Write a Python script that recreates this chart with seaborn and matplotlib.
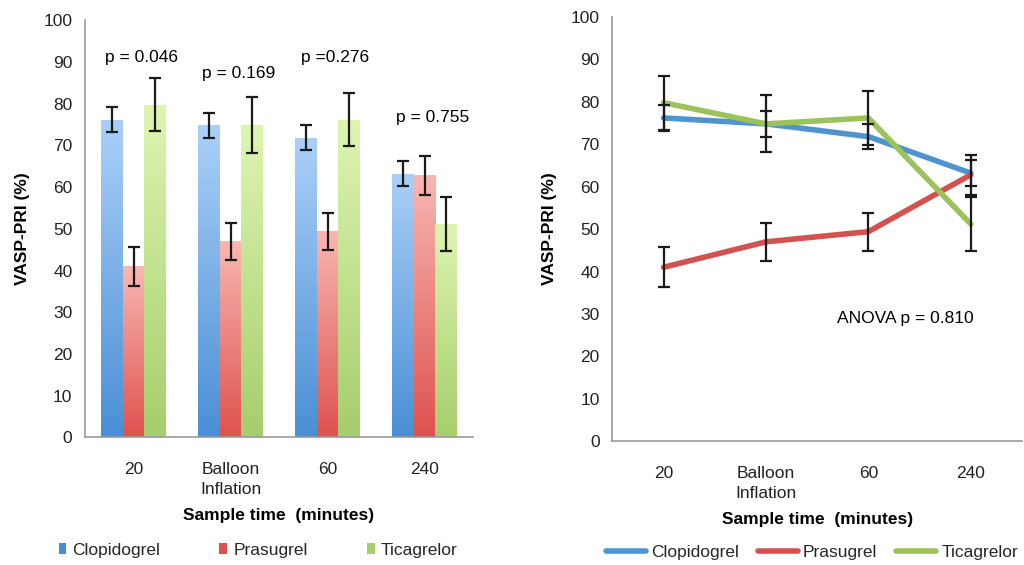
import matplotlib

matplotlib.use("Agg")
import matplotlib.pyplot as plt
import numpy as np
import pandas as pd
import seaborn as sns
from matplotlib.colors import LinearSegmentedColormap
from matplotlib.lines import Line2D
from matplotlib.patches import Patch

# ---- data ----
TIMES = ["20", "Balloon\nInflation", "60", "240"]
DRUGS = ["Clopidogrel", "Prasugrel", "Ticagrelor"]
CLOPIDOGREL = [76.2, 74.8, 71.8, 63.2]
PRASUGREL = [41.0, 47.0, 49.4, 62.8]
TICAGRELOR = [79.8, 74.8, 76.2, 51.2]
CLOPIDOGREL_ERR = [3.0, 3.0, 3.0, 3.0]
PRASUGREL_ERR = [4.7, 4.5, 4.5, 4.7]
TICAGRELOR_ERR = [6.4, 6.7, 6.4, 6.4]
P_VALUES = ["p = 0.046", "p = 0.169", "p =0.276", "p = 0.755"]
P_HEIGHTS = [91.0, 87.3, 91.0, 76.8]
ANOVA_TEXT = "ANOVA p = 0.810"

BAR_TOP = ["#abd0f8", "#f9b7b2", "#def5b2"]
BAR_BOTTOM = ["#4a8fd5", "#de524e", "#a6ce6c"]
LINE_COLORS = ["#4f93cf", "#d3524f", "#9cc25b"]

TEXT = "#222222"
SPINE = "#9a9a9a"


def build_frame() -> pd.DataFrame:
    rows = []
    for drug, vals, errs in zip(
        DRUGS,
        [CLOPIDOGREL, PRASUGREL, TICAGRELOR],
        [CLOPIDOGREL_ERR, PRASUGREL_ERR, TICAGRELOR_ERR],
    ):
        for i, (t, v, e) in enumerate(zip(TIMES, vals, errs)):
            rows.append({"time": t, "pos": i, "drug": drug, "value": v, "err": e})
    return pd.DataFrame(rows)


def style_axes(ax) -> None:
    sns.despine(ax=ax)
    for side in ("left", "bottom"):
        ax.spines[side].set_color(SPINE)
        ax.spines[side].set_linewidth(1.2)
    ax.set_ylim(0, 100)
    ax.set_yticks(range(0, 101, 10))
    ax.set_xlim(-0.5, 3.5)
    ax.set_xticks(range(len(TIMES)))
    ax.set_xticklabels(TIMES, fontsize=12.5, color=TEXT, linespacing=1.4)
    ax.set_xticks(np.arange(-0.5, 3.6, 1.0), minor=True)
    ax.tick_params(axis="x", which="major", length=0, pad=18)
    ax.tick_params(axis="x", which="minor", length=5, color=SPINE, width=1.2)
    ax.tick_params(axis="y", length=5, color=SPINE, width=1.2, labelsize=12.5,
                   labelcolor=TEXT, pad=4)
    ax.set_ylabel("VASP-PRI (%)", fontsize=12.5, fontweight="bold", color="black",
                  labelpad=10)
    ax.set_xlabel("Sample time  (minutes)", fontsize=12.5, fontweight="bold",
                  color="black", labelpad=8)
    ax.grid(False)


def gradient_bars(ax, containers) -> None:
    grad = np.linspace(0, 1, 256).reshape(-1, 1)
    for k, container in enumerate(containers):
        cmap = LinearSegmentedColormap.from_list(
            f"g{k}", [BAR_BOTTOM[k], BAR_TOP[k]]
        )
        for patch in container.patches:
            x0, y0 = patch.get_x(), patch.get_y()
            w, h = patch.get_width(), patch.get_height()
            patch.set_facecolor("none")
            im = ax.imshow(grad, cmap=cmap, origin="lower", aspect="auto",
                           extent=[x0, x0 + w, y0, y0 + h], zorder=2)
            im.set_clip_path(patch)


def main() -> None:
    sns.set_theme(style="white")
    plt.rcParams["font.family"] = ["Liberation Sans", "DejaVu Sans"]
    df = build_frame()

    fig = plt.figure(figsize=(10.24, 5.65), dpi=100)
    ax1 = fig.add_axes([0.083, 0.226, 0.379, 0.738])
    ax2 = fig.add_axes([0.598, 0.219, 0.400, 0.751])

    # ---- left: grouped bars ----
    sns.barplot(data=df, x="pos", y="value", hue="drug", hue_order=DRUGS,
                palette=BAR_BOTTOM, errorbar=None, width=0.67, ax=ax1,
                native_scale=True, edgecolor="none", linewidth=0, legend=False)
    bars = list(ax1.containers)
    gradient_bars(ax1, bars)
    for k, container in enumerate(bars):
        sub = df[df["drug"] == DRUGS[k]].sort_values("pos")
        xs = [p.get_x() + p.get_width() / 2 for p in container.patches]
        ax1.errorbar(xs, sub["value"], yerr=sub["err"], fmt="none", ecolor="#1a1a1a",
                     elinewidth=1.6, capsize=4, capthick=1.6, zorder=4)
    for i, (txt, h) in enumerate(zip(P_VALUES, P_HEIGHTS)):
        ax1.text(i + 0.08, h, txt, ha="center", va="center", fontsize=12.5,
                 color="black")
    style_axes(ax1)

    # ---- right: lines ----
    sns.lineplot(data=df, x="pos", y="value", hue="drug", hue_order=DRUGS,
                 palette=LINE_COLORS, linewidth=4, errorbar=None, ax=ax2,
                 legend=False, zorder=3)
    for drug in DRUGS:
        sub = df[df["drug"] == drug].sort_values("pos")
        ax2.errorbar(sub["pos"], sub["value"], yerr=sub["err"], fmt="none",
                     ecolor="#1a1a1a", elinewidth=1.6, capsize=4, capthick=1.6,
                     zorder=4)
    ax2.text(1.69, 29, ANOVA_TEXT, ha="left", va="center", fontsize=12.5,
             color="black")
    style_axes(ax2)

    # ---- legends ----
    bar_handles = [Patch(facecolor=c, edgecolor="none") for c in BAR_BOTTOM]
    fig.legend(bar_handles, DRUGS, loc="center", bbox_to_anchor=(0.252, 0.026),
               ncol=3, frameon=False, fontsize=12.5, handlelength=0.45,
               handleheight=0.55, handletextpad=0.35, columnspacing=3.4)
    line_handles = [Line2D([0], [0], color=c, lw=4) for c in LINE_COLORS]
    fig.legend(line_handles, DRUGS, loc="center", bbox_to_anchor=(0.793, 0.022),
               ncol=3, frameon=False, fontsize=12.5, handlelength=2.3,
               handletextpad=0.3, columnspacing=1.1, borderpad=0.1)

    fig.savefig("out.png", dpi=100)
    plt.close(fig)


if __name__ == "__main__":
    main()
